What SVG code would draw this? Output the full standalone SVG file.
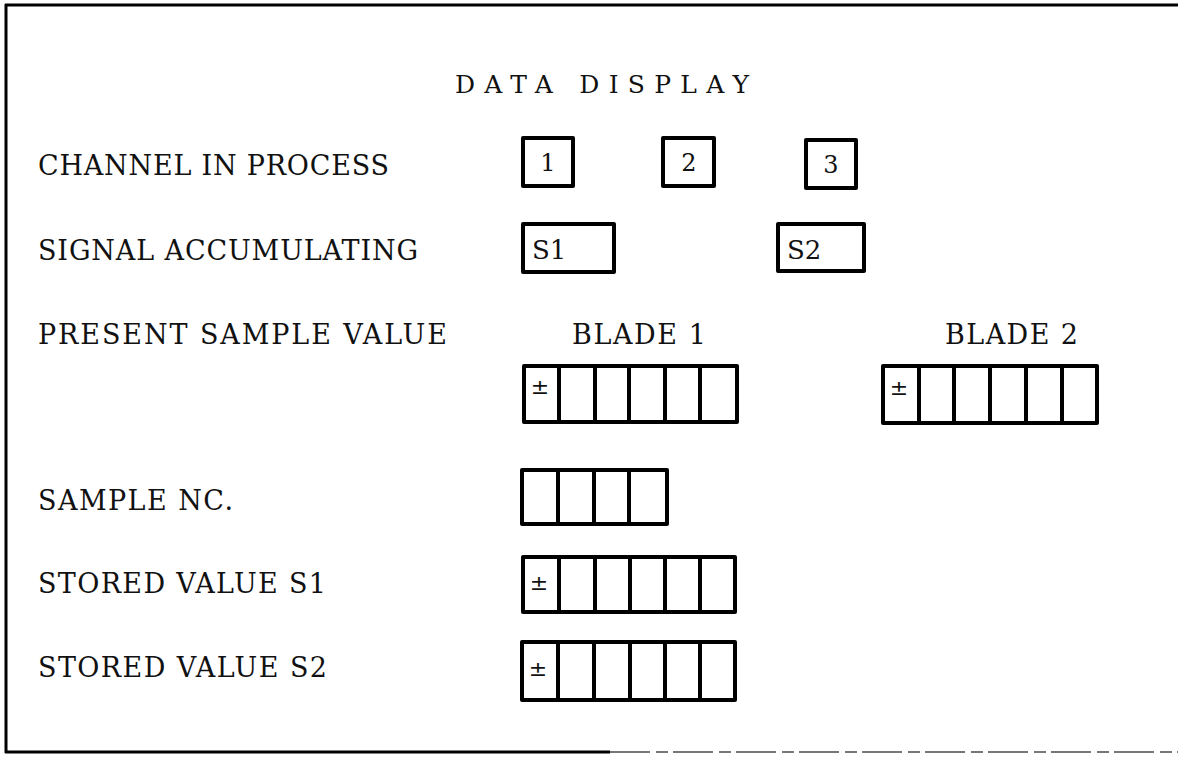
<svg xmlns="http://www.w3.org/2000/svg" width="1178" height="757" viewBox="0 0 1178 757">
<style>
.lbl{font-family:"DejaVu Serif","Liberation Serif",serif;font-size:27px;fill:#111}
.ttl{font-family:"DejaVu Serif","Liberation Serif",serif;font-size:25px;fill:#111}
.dig{font-family:"DejaVu Serif","Liberation Serif",serif;font-size:24px;fill:#111;text-anchor:middle}
.sig{font-family:"DejaVu Serif","Liberation Serif",serif;font-size:26px;fill:#111}
.pm{font-family:"DejaVu Sans","Liberation Sans",sans-serif;font-size:22px;fill:#111;text-anchor:middle}
.box{fill:#fff;stroke:#000;stroke-width:4;stroke-linejoin:round}
.div{stroke:#000;stroke-width:4}
.frame{stroke:#000;stroke-width:3;fill:none}
</style>
<rect width="1178" height="757" fill="#fff"/>
<g id="frame">
<line class="frame" x1="5" y1="5" x2="1178" y2="5"/>
<line class="frame" x1="6" y1="4" x2="6" y2="753"/>
<line class="frame" x1="5" y1="752" x2="610" y2="752"/>
<line x1="610" y1="752" x2="1178" y2="752" stroke="#777" stroke-width="2" stroke-dasharray="40 6 12 5"/>
</g>
<g id="title"><text class="ttl" x="455" y="93" textLength="294" lengthAdjust="spacing">DATA DISPLAY</text></g>
<g id="labels">
<text class="lbl" x="38" y="175" textLength="351" lengthAdjust="spacing">CHANNEL IN PROCESS</text>
<text class="lbl" x="38" y="260" textLength="380" lengthAdjust="spacing">SIGNAL ACCUMULATING</text>
<text class="lbl" x="38" y="344" textLength="409" lengthAdjust="spacing">PRESENT SAMPLE VALUE</text>
<text class="lbl" x="38" y="510" textLength="195" lengthAdjust="spacing">SAMPLE NC.</text>
<text class="lbl" x="38" y="593" textLength="288" lengthAdjust="spacing">STORED VALUE S1</text>
<text class="lbl" x="38" y="677" textLength="289" lengthAdjust="spacing">STORED VALUE S2</text>
<text class="lbl" x="572" y="344" textLength="134" lengthAdjust="spacing">BLADE 1</text>
<text class="lbl" x="945" y="344" textLength="133" lengthAdjust="spacing">BLADE 2</text>
</g>
<g id="channel1"><rect class="box" x="523" y="138" width="50" height="48"/><text class="dig" x="548" y="171">1</text></g>
<g id="channel2"><rect class="box" x="663" y="138" width="51" height="48"/><text class="dig" x="689" y="171">2</text></g>
<g id="channel3"><rect class="box" x="806" y="140" width="50" height="48"/><text class="dig" x="831" y="173">3</text></g>
<g id="signal1"><rect class="box" x="523" y="224" width="91" height="48"/><text class="sig" x="532" y="259">S1</text></g>
<g id="signal2"><rect class="box" x="778" y="224" width="86" height="47"/><text class="sig" x="787" y="259">S2</text></g>
<g id="blade1">
<rect class="box" x="524" y="366" width="213" height="56"/>
<line class="div" x1="559" y1="366" x2="559" y2="422"/><line class="div" x1="595" y1="366" x2="595" y2="422"/><line class="div" x1="629" y1="366" x2="629" y2="422"/><line class="div" x1="665" y1="366" x2="665" y2="422"/><line class="div" x1="700" y1="366" x2="700" y2="422"/>
<text class="pm" x="540" y="394">±</text>
</g>
<g id="blade2">
<rect class="box" x="883" y="366" width="214" height="57"/>
<line class="div" x1="919" y1="366" x2="919" y2="423"/><line class="div" x1="954" y1="366" x2="954" y2="423"/><line class="div" x1="990" y1="366" x2="990" y2="423"/><line class="div" x1="1026" y1="366" x2="1026" y2="423"/><line class="div" x1="1062" y1="366" x2="1062" y2="423"/>
<text class="pm" x="899" y="395">±</text>
</g>
<g id="sampleno">
<rect class="box" x="522" y="470" width="145" height="54"/>
<line class="div" x1="558" y1="470" x2="558" y2="524"/><line class="div" x1="594" y1="470" x2="594" y2="524"/><line class="div" x1="629" y1="470" x2="629" y2="524"/>
</g>
<g id="stored1">
<rect class="box" x="523" y="557" width="212" height="55"/>
<line class="div" x1="559" y1="557" x2="559" y2="612"/><line class="div" x1="595" y1="557" x2="595" y2="612"/><line class="div" x1="630" y1="557" x2="630" y2="612"/><line class="div" x1="665" y1="557" x2="665" y2="612"/><line class="div" x1="700" y1="557" x2="700" y2="612"/>
<text class="pm" x="539" y="590">±</text>
</g>
<g id="stored2">
<rect class="box" x="522" y="642" width="213" height="58"/>
<line class="div" x1="558" y1="642" x2="558" y2="700"/><line class="div" x1="594" y1="642" x2="594" y2="700"/><line class="div" x1="630" y1="642" x2="630" y2="700"/><line class="div" x1="665" y1="642" x2="665" y2="700"/><line class="div" x1="700" y1="642" x2="700" y2="700"/>
<text class="pm" x="538" y="676">±</text>
</g>
<g id="connectors"/>
</svg>
